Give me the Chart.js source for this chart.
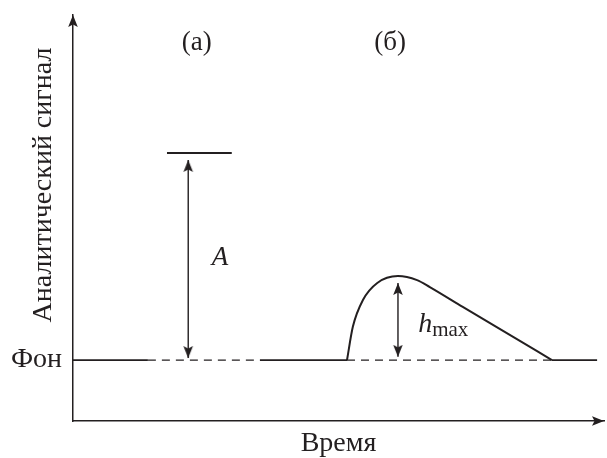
<!DOCTYPE html>
<html>
<head>
<meta charset="utf-8">
<script src="https://cdn.jsdelivr.net/npm/chart.js@4/dist/chart.umd.min.js"></script>
<style>
  body { margin: 0; background: #fff; }
</style>
</head>
<body>
<canvas id="chart" width="607" height="458"></canvas>
<script>
// Background level and signal shapes (time / signal units, 0..100)
const backgroundLevel = 15;
const solidBaseX = [0, 14.1, null, 35.2, 51.6, null, 90.2, 98.7];
const dashedBaseX = [14.1, 35.2, null, 51.6, 90.2];

// (a) steady signal level
const levelAX = [17.7, 29.9];
const levelAY = 66;

// (б) transient peak
const peakX = [51.6, 52.7, 54.6, 57.3, 61.2, 64.8, 67.2, 73.4, 79.8, 87.4, 90.2];
const peakY = [15, 23.2, 29.8, 34, 35.7, 34.7, 33, 28.1, 23.1, 17.2, 15];

// double arrows: A and h_max
const arrowAX = 21.7;
const arrowAY = [64.3, 15.5];
const arrowHX = 61.2;
const arrowHY = [34.0, 15.8];

// text labels
const labelTexts = ['(а)', '(б)', 'A', 'h'];
const labelX = [23.3, 59.7, 27.7, 65.0];
const labelY = [93.1, 93.1, 40.1, 21.9];

const ink = '#231f20';
const serif = '"Liberation Serif", "Times New Roman", serif';

// arrowhead drawn with its tip at the centre of a small canvas, pointing up
function makeArrowHead() {
    const c = document.createElement('canvas');
    c.width = 24; c.height = 24;
    const g = c.getContext('2d');
    g.fillStyle = ink;
    g.beginPath();
    g.moveTo(12, 12);
    g.lineTo(16.8, 24);
    g.lineTo(12, 21.5);
    g.lineTo(7.2, 24);
    g.closePath();
    g.fill();
    return c;
}
const arrowHead = makeArrowHead();

function baseline(xs) {
    return xs.map(x => x === null ? { x: NaN, y: null } : { x: x, y: backgroundLevel });
}

const textPlugin = {
    id: 'texts',
    afterDatasetsDraw(chart) {
        const { ctx, scales } = chart;
        ctx.save();
        ctx.fillStyle = ink;
        ctx.textBaseline = 'middle';
        ctx.textAlign = 'center';
        ctx.font = '27px ' + serif;
        ctx.fillText(labelTexts[0], scales.x.getPixelForValue(labelX[0]), scales.y.getPixelForValue(labelY[0]));
        ctx.fillText(labelTexts[1], scales.x.getPixelForValue(labelX[1]), scales.y.getPixelForValue(labelY[1]));
        ctx.font = 'italic 27px ' + serif;
        ctx.fillText(labelTexts[2], scales.x.getPixelForValue(labelX[2]), scales.y.getPixelForValue(labelY[2]));

        // h with "max" subscript
        ctx.textAlign = 'left';
        ctx.textBaseline = 'alphabetic';
        const hx = scales.x.getPixelForValue(labelX[3]);
        const hy = scales.y.getPixelForValue(labelY[3]);
        ctx.font = 'italic 28px ' + serif;
        ctx.fillText(labelTexts[3], hx, hy);
        const hw = ctx.measureText(labelTexts[3]).width;
        ctx.font = '21px ' + serif;
        ctx.fillText('max', hx + hw, hy + 4);

        // vertical axis title
        ctx.font = '28px ' + serif;
        ctx.textAlign = 'center';
        ctx.textBaseline = 'middle';
        ctx.translate(44, 185);
        ctx.rotate(-Math.PI / 2);
        ctx.fillText('Аналитический сигнал', 0, 0);
        ctx.restore();
    }
};

new Chart(document.getElementById('chart').getContext('2d'), {
    type: 'line',
    data: {
        datasets: [
            {
                data: baseline(solidBaseX),
                borderColor: ink, borderWidth: 1.8, pointRadius: 0, spanGaps: false
            },
            {
                data: baseline(dashedBaseX),
                borderColor: ink, borderWidth: 1.4, borderDash: [8, 6], pointRadius: 0, spanGaps: false
            },
            {
                data: peakX.map((x, i) => ({ x: x, y: peakY[i] })),
                borderColor: ink, borderWidth: 2, pointRadius: 0, cubicInterpolationMode: 'monotone'
            },
            {
                data: levelAX.map(x => ({ x: x, y: levelAY })),
                borderColor: ink, borderWidth: 2, pointRadius: 0
            },
            {
                data: arrowAY.map(y => ({ x: arrowAX, y: y })),
                borderColor: ink, borderWidth: 1.4,
                pointStyle: arrowHead, pointRadius: 6, rotation: [0, 180]
            },
            {
                data: arrowHY.map(y => ({ x: arrowHX, y: y })),
                borderColor: ink, borderWidth: 1.4,
                pointStyle: arrowHead, pointRadius: 6, rotation: [0, 180]
            },
            {
                // axis arrowheads
                data: [{ x: 0, y: 100 }, { x: 100, y: 0 }],
                showLine: false,
                pointStyle: arrowHead, pointRadius: 6, rotation: [0, 90]
            }
        ]
    },
    options: {
        responsive: false,
        animation: false,
        events: [],
        layout: { padding: { top: 15, right: 3, left: 0, bottom: 0 }, autoPadding: false },
        elements: { line: { tension: 0 } },
        datasets: { line: { clip: false } },
        plugins: { legend: { display: false }, tooltip: { enabled: false } },
        scales: {
            x: {
                type: 'linear', min: 0, max: 100,
                grid: { display: false },
                border: { display: true, color: ink, width: 1.5 },
                ticks: { display: false },
                title: { display: true, text: 'Время', color: ink, font: { family: serif, size: 28, lineHeight: 1 }, padding: 0 },
                afterFit(scale) { scale.height = 37; scale.paddingLeft = 0; scale.paddingRight = 0; }
            },
            y: {
                type: 'linear', min: 0, max: 100,
                grid: { display: false, drawTicks: false },
                border: { display: true, color: ink, width: 1.5 },
                afterBuildTicks(scale) { scale.ticks = [{ value: backgroundLevel }]; },
                ticks: {
                    color: ink, padding: 11,
                    font: { family: serif, size: 28 },
                    callback: () => 'Фон'
                },
                afterFit(scale) { scale.width = 73; scale.paddingTop = 0; scale.paddingBottom = 0; }
            }
        }
    },
    plugins: [textPlugin]
});
</script>
</body>
</html>
